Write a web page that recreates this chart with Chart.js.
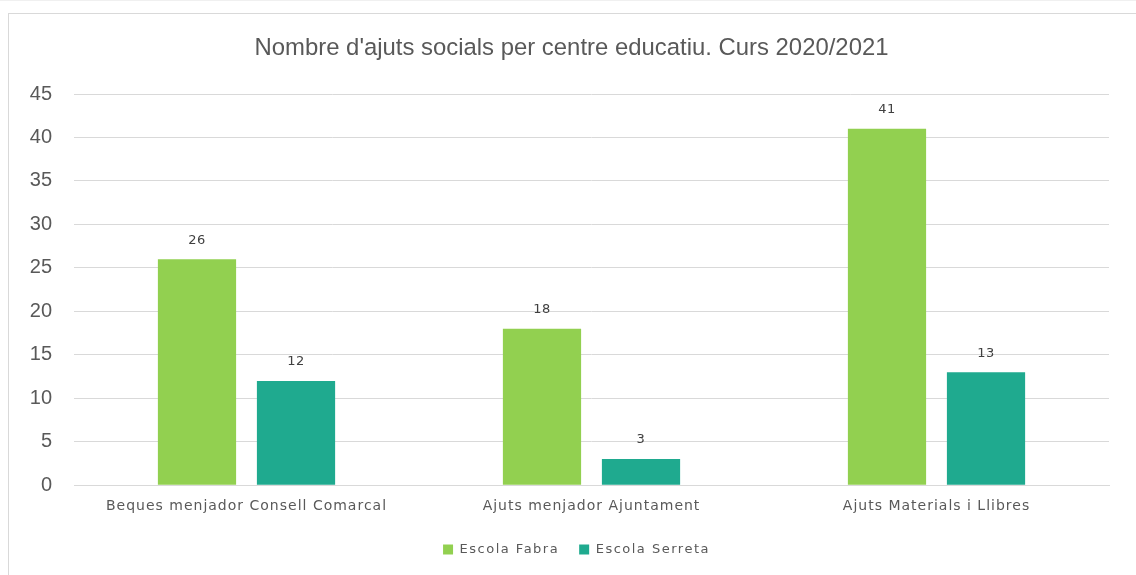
<!DOCTYPE html>
<html>
<head>
<meta charset="utf-8">
<script src="https://cdn.jsdelivr.net/npm/chart.js@4.4.1/dist/chart.umd.min.js"></script>
<style>
    html, body { margin: 0; padding: 0; background: #fff; }
    body { width: 1136px; height: 575px; overflow: hidden; position: relative; border-top: 1px solid #f0f0f0; box-sizing: border-box; }
    .frame { position: absolute; left: 8px; top: 12px; width: 1140px; height: 580px; border: 1px solid #d9d9d9; box-sizing: border-box; }
    .wrap { position: absolute; left: 0; top: 0; width: 1136px; height: 575px; }
</style>
</head>
<body>
<div class="frame"></div>
<div class="wrap"><canvas id="ajutsChart"></canvas></div>
<script>
// --- data ---
const categories = ['Beques menjador Consell Comarcal', 'Ajuts menjador Ajuntament', 'Ajuts Materials i Llibres'];
const fabraValues = [26, 18, 41];
const serretaValues = [12, 3, 13];
const seriesNames = ['Escola Fabra', 'Escola Serreta'];
const yTicks = [0, 5, 10, 15, 20, 25, 30, 35, 40, 45];
const chartTitle = "Nombre d'ajuts socials per centre educatiu. Curs 2020/2021";

const geoFont = "'DejaVu Sans', 'Lato', sans-serif";
const arialFont = "'Liberation Sans', Arial, sans-serif";

// wider letter spacing to get closer to the Century Gothic look
function withSpacing(obj, method, sp) {
    const orig = obj[method];
    obj[method] = function (...args) {
        const c = this.ctx;
        c.save();
        c.letterSpacing = sp;
        const r = orig.apply(this, args);
        c.restore();
        return r;
    };
}

const spacingPatch = {
    id: 'spacingPatch',
    beforeLayout(chart) {
        if (chart.legend && !chart.legend._spaced) {
            withSpacing(chart.legend, 'fit', '1.5px');
            withSpacing(chart.legend, 'draw', '1.5px');
            chart.legend._spaced = true;
        }
        const xs = chart.scales && chart.scales.x;
        if (xs && !xs._spaced) {
            withSpacing(xs, 'drawLabels', '1px');
            xs._spaced = true;
        }
    },
    afterLayout(chart) {
        // legend sits centred on the frame, a bit right of the canvas centre
        const lg = chart.legend;
        lg.left += 22; lg.right += 22;
        lg.top += 3; lg.bottom += 3;
    }
};

// title (drawn by hand so it can sit centred on the frame) + value labels above bars
const textLayer = {
    id: 'textLayer',
    afterDatasetsDraw(chart) {
        const ctx = chart.ctx;
        ctx.save();
        ctx.font = "23.9px " + arialFont;
        ctx.fillStyle = '#595959';
        ctx.textAlign = 'center';
        ctx.textBaseline = 'middle';
        ctx.fillText(chartTitle, 571.5, 47);

        ctx.font = "13px " + geoFont;
        ctx.letterSpacing = '0.5px';
        ctx.fillStyle = '#404040';
        chart.data.datasets.forEach((ds, i) => {
            chart.getDatasetMeta(i).data.forEach((bar, j) => {
                ctx.fillText(ds.data[j], bar.x, bar.y - 19);
            });
        });
        ctx.restore();
    }
};

const ctx = document.getElementById('ajutsChart').getContext('2d');
new Chart(ctx, {
    type: 'bar',
    data: {
        labels: categories,
        datasets: [{
            label: seriesNames[0],
            data: fabraValues,
            backgroundColor: '#92D050',
            categoryPercentage: 0.574,
            barPercentage: 0.79
        }, {
            label: seriesNames[1],
            data: serretaValues,
            backgroundColor: '#1FAA8F',
            categoryPercentage: 0.574,
            barPercentage: 0.79
        }]
    },
    options: {
        responsive: true,
        maintainAspectRatio: false,
        animation: false,
        layout: { padding: { top: 93, right: 27, bottom: 13, left: 0 } },
        plugins: {
            title: { display: false },
            legend: {
                position: 'bottom',
                labels: {
                    color: '#595959',
                    font: { family: geoFont, size: 13 },
                    boxWidth: 10,
                    boxHeight: 10,
                    padding: 20
                }
            },
            tooltip: { enabled: false }
        },
        scales: {
            x: {
                grid: { display: false },
                border: { color: '#d9d9d9' },
                ticks: {
                    color: '#595959',
                    font: { family: geoFont, size: 14 },
                    padding: 5,
                    maxRotation: 0
                }
            },
            y: {
                min: 0,
                max: 45,
                afterFit(scale) { scale.width = 74; },
                afterBuildTicks(scale) { scale.ticks = yTicks.map(v => ({ value: v })); },
                grid: { color: '#d9d9d9', drawTicks: false },
                border: { display: false },
                ticks: {
                    color: '#595959',
                    font: { family: arialFont, size: 20 },
                    padding: 22
                }
            }
        }
    },
    plugins: [spacingPatch, textLayer]
});
</script>
</body>
</html>
